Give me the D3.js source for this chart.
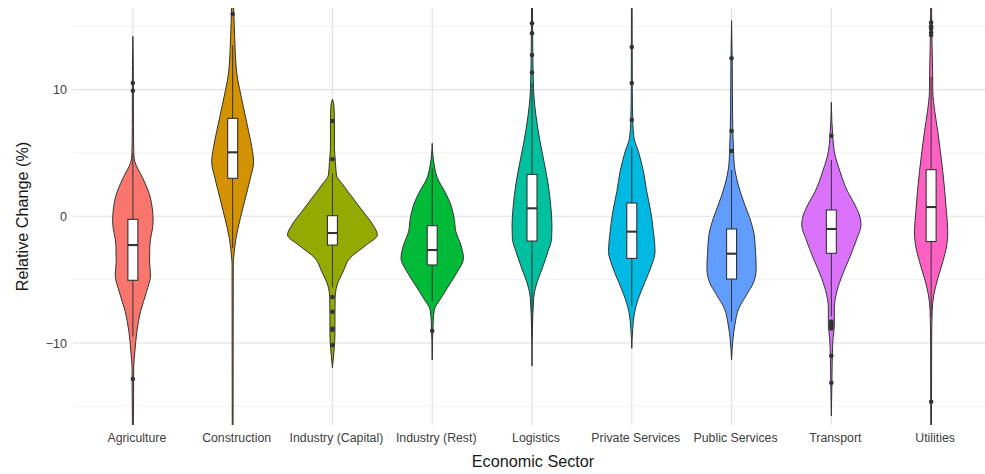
<!DOCTYPE html>
<html>
<head>
<meta charset="utf-8">
<script src="https://cdn.jsdelivr.net/npm/d3@7"></script>
<style>
  html, body { margin: 0; padding: 0; background: #ffffff; }
  svg { display: block; font-family: "Liberation Sans", Arial, Helvetica, sans-serif; }
</style>
</head>
<body>
<svg id="chart" width="985" height="474"></svg>
<script>
// ---------------- data ----------------
const categories = ["Agriculture", "Construction", "Industry (Capital)", "Industry (Rest)",
  "Logistics", "Private Services", "Public Services", "Transport", "Utilities"];

const fillColors = ["#F8766D", "#D39200", "#93AA00", "#00BA38", "#00C19F",
  "#00B9E3", "#619CFF", "#DB72FB", "#FF61C3"];

// boxplot statistics (Relative Change, %)
const whiskerLow  = [-9.5, -2.5, -5.6, -6.7, -9.5, -7.1, -8.3, -7.9, -8.0];
const quartile1   = [-5.05, 3.0, -2.27, -3.84, -1.95, -3.32, -4.95, -2.92, -1.99];
const medians     = [-2.27, 5.05, -1.32, -2.66, 0.63, -1.21, -2.95, -1.0, 0.73];
const quartile3   = [-0.24, 7.73, 0.05, -0.74, 3.31, 1.05, -1.0, 0.5, 3.68];
const whiskerHigh = [5.0, 13.5, 3.4, 3.8, 10.5, 5.5, 3.65, 4.44, 11.0];

const outliers = [
  [10.52, 9.91, -12.84],
  [15.97],
  [7.52, 4.5, -6.37, -7.53, -8.87, -8.95, -10.16],
  [-9.03],
  [15.23, 14.44, 12.73, 11.34],
  [13.36, 10.52, 7.6],
  [12.47, 6.73, 5.15],
  [6.36, -8.3, -8.45, -8.6, -8.75, -8.85, -11.0, -13.13],
  [15.3, 15.0, 14.8, 14.5, 14.3, -14.63]
];

// violin density profiles: [value, relative half-width (share of category step)]
const violinDensity = [
  [[-18,0.003],[-16,0.005],[-14,0.007],[-12,0.008],[-10.7,0.02],[-9.1,0.04],[-7.5,0.077],[-5.95,0.137],[-4.63,0.177],[-3.58,0.167],[-2.27,0.17],[-0.42,0.203],[1.42,0.177],[3.0,0.10],[4.31,0.02],[4.84,0.01],[7,0.006],[9.84,0.005],[12,0.004],[14.2,0]],
  [[-18,0.004],[-10,0.005],[-3.8,0.006],[-3.3,0.01],[-1.74,0.033],[-0.16,0.077],[1.42,0.127],[3.0,0.177],[4.3,0.21],[5.4,0.193],[6.7,0.16],[8.8,0.103],[11.4,0.04],[14.2,0.02],[16.5,0.01],[18,0]],
  [[-11.95,0],[-10.7,0.015],[-9.37,0.025],[-7.8,0.025],[-6.47,0.027],[-5.42,0.047],[-4.37,0.107],[-3.32,0.173],[-2.26,0.34],[-1.47,0.45],[-0.69,0.407],[0.37,0.307],[1.42,0.207],[2.47,0.107],[3.26,0.04],[4.32,0.03],[5.37,0.02],[7.47,0.02],[8.78,0.015],[9.23,0]],
  [[-11.34,0],[-8.3,0.01],[-7.4,0.02],[-6.47,0.087],[-5.42,0.17],[-4.37,0.253],[-3.32,0.313],[-2.26,0.287],[-1.21,0.237],[-0.16,0.22],[0.89,0.187],[1.9,0.13],[3.0,0.053],[4.05,0.02],[5.76,0]],
  [[-11.82,0],[-9,0.004],[-6.47,0.017],[-5.42,0.043],[-4.1,0.103],[-2.79,0.16],[-1.74,0.197],[-0.69,0.2],[0.89,0.187],[2.47,0.163],[4.05,0.127],[5.63,0.087],[7.2,0.053],[8.78,0.027],[10.1,0.015],[13,0.008],[18,0.004]],
  [[-10.42,0],[-8.84,0.01],[-7.79,0.023],[-6.47,0.067],[-5.16,0.133],[-3.84,0.2],[-2.79,0.233],[-1.21,0.217],[0.37,0.19],[1.95,0.15],[3.53,0.117],[5.1,0.067],[6.16,0.023],[7.47,0.01],[10,0.005],[18,0.003]],
  [[-11.34,0],[-9.63,0.015],[-8.58,0.033],[-7.26,0.073],[-6.2,0.15],[-5.16,0.223],[-4.1,0.247],[-2.79,0.24],[-1.47,0.227],[-0.16,0.183],[0.89,0.133],[2.47,0.067],[4.05,0.027],[5.15,0.02],[8,0.01],[12,0.007],[15.44,0]],
  [[-15.74,0],[-13,0.006],[-10.9,0.01],[-9.63,0.017],[-8.58,0.03],[-7.26,0.03],[-6.2,0.047],[-4.89,0.097],[-3.32,0.18],[-1.74,0.257],[-0.69,0.297],[-0.16,0.29],[0.89,0.237],[1.95,0.163],[3.53,0.087],[5.1,0.03],[6.16,0.015],[9.0,0]],
  [[-18,0.003],[-10,0.005],[-7.5,0.01],[-6.2,0.027],[-4.89,0.067],[-3.58,0.117],[-2.26,0.157],[-1.21,0.167],[0.37,0.153],[1.95,0.137],[3.53,0.117],[5.1,0.093],[6.68,0.067],[8.26,0.037],[9.84,0.017],[11.4,0.015],[14,0.008],[18,0.004]]
];

const yMajorTicks = [-10, 0, 10];
const yMinorTicks = [-15, -5, 5, 15];
const yDomain = [-16.47, 16.44];

const xTitle = "Economic Sector";
const yTitle = "Relative Change (%)";

// ---------------- layout ----------------
const W = 985, H = 474;
const panel = { left: 73, right: 991, top: 8, bottom: 425 };

const svg = d3.select("#chart");

const x = d3.scalePoint().domain(categories).range([panel.left, panel.right]).padding(0.6);
const step = x.step();
const y = d3.scaleLinear().domain(yDomain).range([panel.bottom, panel.top]);

svg.append("defs").append("clipPath").attr("id", "panelClip")
  .append("rect")
  .attr("x", panel.left).attr("y", panel.top)
  .attr("width", panel.right - panel.left).attr("height", panel.bottom - panel.top);

// grid
const grid = svg.append("g");
grid.selectAll("line.minor").data(yMinorTicks).join("line")
  .attr("x1", panel.left).attr("x2", panel.right)
  .attr("y1", d => y(d)).attr("y2", d => y(d))
  .attr("stroke", "#ededed").attr("stroke-width", 0.7);
grid.selectAll("line.major").data(yMajorTicks).join("line")
  .attr("x1", panel.left).attr("x2", panel.right)
  .attr("y1", d => y(d)).attr("y2", d => y(d))
  .attr("stroke", "#e0e0e0").attr("stroke-width", 1.1);
grid.selectAll("line.vx").data(categories).join("line")
  .attr("x1", d => x(d)).attr("x2", d => x(d))
  .attr("y1", panel.top).attr("y2", panel.bottom)
  .attr("stroke", "#e0e0e0").attr("stroke-width", 1.1);

// marks
const marks = svg.append("g").attr("clip-path", "url(#panelClip)");
const strokeCol = "#333333";
const boxHalf = 0.05 * step;

categories.forEach((cat, i) => {
  const cx = x(cat);
  const g = marks.append("g");

  const area = d3.area()
    .curve(d3.curveMonotoneY)
    .y(d => y(d[0]))
    .x0(d => cx - d[1] * step)
    .x1(d => cx + d[1] * step);

  g.append("path")
    .datum(violinDensity[i])
    .attr("d", area)
    .attr("fill", fillColors[i])
    .attr("stroke", strokeCol)
    .attr("stroke-width", 1);

  // whiskers
  g.append("line")
    .attr("x1", cx).attr("x2", cx)
    .attr("y1", y(quartile3[i])).attr("y2", y(whiskerHigh[i]))
    .attr("stroke", strokeCol).attr("stroke-width", 1);
  g.append("line")
    .attr("x1", cx).attr("x2", cx)
    .attr("y1", y(quartile1[i])).attr("y2", y(whiskerLow[i]))
    .attr("stroke", strokeCol).attr("stroke-width", 1);

  // box
  g.append("rect")
    .attr("x", cx - boxHalf).attr("width", 2 * boxHalf)
    .attr("y", y(quartile3[i])).attr("height", y(quartile1[i]) - y(quartile3[i]))
    .attr("fill", "#ffffff").attr("stroke", strokeCol).attr("stroke-width", 1.1);
  g.append("line")
    .attr("x1", cx - boxHalf).attr("x2", cx + boxHalf)
    .attr("y1", y(medians[i])).attr("y2", y(medians[i]))
    .attr("stroke", strokeCol).attr("stroke-width", 2.1);

  // outliers
  g.selectAll("circle").data(outliers[i]).join("circle")
    .attr("cx", cx).attr("cy", d => y(d)).attr("r", 2.3)
    .attr("fill", strokeCol);
});

// axes text
const tickCol = "#404040";
svg.append("g").selectAll("text").data(yMajorTicks).join("text")
  .attr("x", 67).attr("y", d => y(d)).attr("dy", "0.36em")
  .attr("text-anchor", "end").attr("font-size", 12.5).attr("fill", tickCol)
  .text(d => d < 0 ? "\u2212" + Math.abs(d) : String(d));

svg.append("g").selectAll("text").data(categories).join("text")
  .attr("x", d => x(d) + 4).attr("y", 442)
  .attr("text-anchor", "middle").attr("font-size", 12.3).attr("fill", tickCol)
  .text(d => d);

svg.append("text")
  .attr("x", (panel.left + panel.right) / 2 + 1).attr("y", 466.5)
  .attr("text-anchor", "middle").attr("font-size", 16.2).attr("fill", "#1a1a1a")
  .text(xTitle);

svg.append("text")
  .attr("transform", `translate(27.5,${(panel.top + panel.bottom) / 2}) rotate(-90)`)
  .attr("text-anchor", "middle").attr("font-size", 16.2).attr("fill", "#1a1a1a")
  .text(yTitle);
</script>
</body>
</html>
